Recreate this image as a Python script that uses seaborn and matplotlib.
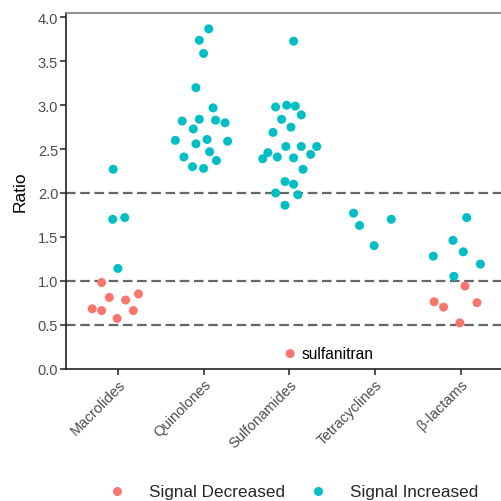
import matplotlib
matplotlib.use("Agg")
import matplotlib.pyplot as plt
import seaborn as sns
import pandas as pd
import numpy as np

categories = ["Macrolides", "Quinolones", "Sulfonamides", "Tetracyclines", "β-lactams"]

# Macrolides
mac_ratio = [2.27, 1.70, 1.72, 1.14, 0.98, 0.81, 0.78, 0.85, 0.68, 0.66, 0.66, 0.57]
mac_signal = ["I", "I", "I", "I", "D", "D", "D", "D", "D", "D", "D", "D"]
mac_jitter = [-0.055, -0.06, 0.08, 0.0, -0.19, -0.10, 0.09, 0.24, -0.30, -0.19, 0.18, -0.01]

# Quinolones
qui_ratio = [3.87, 3.74, 3.59, 3.20, 2.97, 2.82, 2.84, 2.83, 2.80, 2.73, 2.60, 2.61,
             2.59, 2.56, 2.47, 2.41, 2.37, 2.30, 2.28]
qui_signal = ["I"] * 19
qui_jitter = [0.06, -0.05, 0.0, -0.09, 0.11, -0.25, -0.05, 0.14, 0.25, -0.12, -0.33, 0.04,
              0.28, -0.09, 0.07, -0.23, 0.15, -0.13, 0.0]

# Sulfonamides
sul_ratio = [3.73, 2.98, 3.00, 2.99, 2.89, 2.84, 2.75, 2.69, 2.53, 2.53, 2.53, 2.46,
             2.44, 2.39, 2.41, 2.40, 2.27, 2.13, 2.10, 2.00, 1.98, 1.86, 0.17]
sul_signal = ["I"] * 22 + ["D"]
sul_jitter = [0.05, -0.16, -0.03, 0.07, 0.14, -0.09, 0.02, -0.19, -0.04, 0.14, 0.32, -0.25,
              0.25, -0.31, -0.14, 0.05, 0.16, -0.05, 0.05, -0.16, 0.10, -0.05, 0.01]

# Tetracyclines
tet_ratio = [1.77, 1.63, 1.70, 1.40]
tet_signal = ["I"] * 4
tet_jitter = [-0.25, -0.18, 0.19, -0.01]

# beta-lactams
bet_ratio = [1.72, 1.46, 1.33, 1.28, 1.19, 1.05, 0.94, 0.76, 0.75, 0.70, 0.52]
bet_signal = ["I", "I", "I", "I", "I", "I", "D", "D", "D", "D", "D"]
bet_jitter = [0.07, -0.09, 0.03, -0.32, 0.23, -0.08, 0.05, -0.31, 0.19, -0.20, -0.01]

signal_names = {"D": "Signal Decreased", "I": "Signal Increased"}
palette = {"Signal Decreased": "#F8766D", "Signal Increased": "#00BFC4"}
hlines = [0.5, 1.0, 2.0]
y_ticks = [0.0, 0.5, 1.0, 1.5, 2.0, 2.5, 3.0, 3.5, 4.0]
annot_label = "sulfanitran"
annot_cat = "Sulfonamides"
annot_value = 0.17

groups = [
    (mac_ratio, mac_signal, mac_jitter),
    (qui_ratio, qui_signal, qui_jitter),
    (sul_ratio, sul_signal, sul_jitter),
    (tet_ratio, tet_signal, tet_jitter),
    (bet_ratio, bet_signal, bet_jitter),
]
rows = []
for i, (cat, (r, s, j)) in enumerate(zip(categories, groups)):
    for rv, sv, jv in zip(r, s, j):
        rows.append({"Class": cat, "pos": i + jv, "Ratio": rv, "Signal": signal_names[sv]})
df = pd.DataFrame(rows)

sns.set_theme(style="white")
plt.rcParams["font.family"] = ["Liberation Sans", "DejaVu Sans"]

fig = plt.figure(figsize=(5.02, 5.02), dpi=100)
ax = fig.add_axes([66.5 / 502, (502 - 369.5) / 502, 445.6 / 502, 355.5 / 502])

for h in hlines:
    ax.axhline(h, color="#666666", lw=1.6, ls=(0, (4.3, 2.1)), zorder=1)

sns.scatterplot(data=df, x="pos", y="Ratio", hue="Signal", palette=palette,
                hue_order=["Signal Decreased", "Signal Increased"],
                s=42, linewidth=0, ax=ax, zorder=3)

# annotation
arow = df[(df["Class"] == annot_cat) & (df["Ratio"] == annot_value)].iloc[0]
ax.text(arow["pos"] + 0.13, annot_value, annot_label, fontsize=11.2, color="black",
        va="center", ha="left")

ax.set_xlim(-0.6, 4.6)
ax.set_ylim(0, 4.051)
ax.set_xticks(range(len(categories)))
ax.set_xticklabels(categories, rotation=45, ha="right", rotation_mode="anchor",
                   fontsize=10.5, color="#4D4D4D")
ax.set_yticks(y_ticks)
ax.set_yticklabels([f"{v:.1f}" for v in y_ticks], fontsize=10.5, color="#4D4D4D")
ax.tick_params(axis="both", length=4, width=1.2, color="#333333", pad=2, bottom=True, left=True)
ax.set_xlabel("")
ax.set_ylabel("Ratio", fontsize=12.5, color="black", labelpad=7)

for side in ["left", "bottom"]:
    ax.spines[side].set_color("#222222")
    ax.spines[side].set_linewidth(1.2)
ax.spines["top"].set_color("#7F7F7F")
ax.spines["top"].set_linewidth(1.2)
ax.spines["right"].set_visible(False)

sns.move_legend(ax, "center", bbox_to_anchor=(289 / 502, 1 - 493 / 502),
                bbox_transform=fig.transFigure, ncol=2, title=None, frameon=False,
                fontsize=12.3, handletextpad=0.9, columnspacing=0.9, markerscale=1.0)

fig.savefig("out.png", dpi=100)
